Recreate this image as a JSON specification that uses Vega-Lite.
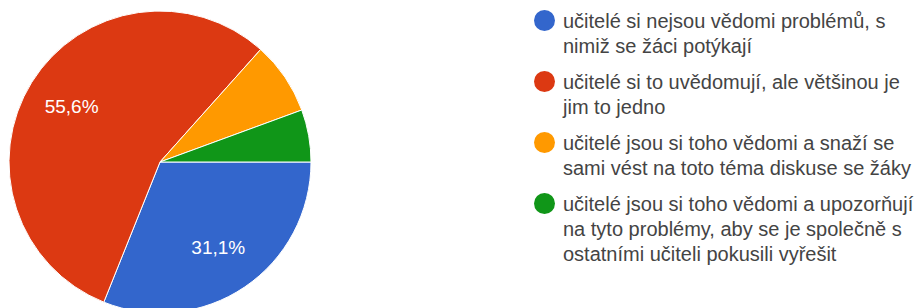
{
  "$schema": "https://vega.github.io/schema/vega-lite/v6.json",
  "width": 320,
  "height": 324,
  "padding": {"left": 0, "top": 0, "right": 598, "bottom": 0},
  "autosize": {"type": "none"},
  "background": "white",
  "config": {
    "view": {"stroke": null},
    "style": {"guide-label": {"dy": 7, "lineHeight": 25}},
    "locale": {"number": {"decimal": ",", "thousands": "\u00a0", "grouping": [3], "currency": ["", "\u00a0Kč"]}}
  },
  "data": {
    "values": [
      {"id": 1, "cat": "učitelé si nejsou vědomi problémů, s nimiž se žáci potýkají", "share": 0.311},
      {"id": 2, "cat": "učitelé si to uvědomují, ale většinou je jim to jedno", "share": 0.556},
      {"id": 3, "cat": "učitelé jsou si toho vědomi a snaží se sami vést na toto téma diskuse se žáky", "share": 0.078},
      {"id": 4, "cat": "učitelé jsou si toho vědomi a upozorňují na tyto problémy, aby se je společně s ostatními učiteli pokusili vyřešit", "share": 0.056}
    ]
  },
  "encoding": {
    "theta": {"field": "share", "type": "quantitative", "stack": true, "scale": {"range": [1.5707963, 7.8539816]}},
    "order": {"field": "id", "type": "quantitative"}
  },
  "layer": [
    {
      "mark": {"type": "arc", "radius": 151, "stroke": "white", "strokeWidth": 1},
      "encoding": {
        "color": {
          "field": "cat",
          "type": "nominal",
          "scale": {
            "domain": [
              "učitelé si nejsou vědomi problémů, s nimiž se žáci potýkají",
              "učitelé si to uvědomují, ale většinou je jim to jedno",
              "učitelé jsou si toho vědomi a snaží se sami vést na toto téma diskuse se žáky",
              "učitelé jsou si toho vědomi a upozorňují na tyto problémy, aby se je společně s ostatními učiteli pokusili vyřešit"
            ],
            "range": ["#3366cc", "#dc3912", "#ff9900", "#109618"]
          },
          "legend": {
            "title": null,
            "orient": "none",
            "legendX": 534,
            "legendY": 10,
            "padding": 0,
            "symbolType": "circle",
            "symbolSize": 441,
            "symbolStrokeWidth": 0,
            "symbolOpacity": 1,
            "labelFont": "Liberation Sans, Arial",
            "labelFontSize": 20,
            "labelColor": "#444444",
            "labelLimit": 500,
            "labelOffset": 8,
            "labelBaseline": "alphabetic",
            "rowPadding": 14,
            "labelExpr": "length(substring(datum.label, lastindexof(substring(datum.label,0,41),' ')+1)) <= 41 ? [substring(datum.label,0,lastindexof(substring(datum.label,0,41),' ')), substring(datum.label, lastindexof(substring(datum.label,0,41),' ')+1)] : [substring(datum.label,0,lastindexof(substring(datum.label,0,41),' ')), substring(substring(datum.label, lastindexof(substring(datum.label,0,41),' ')+1),0,lastindexof(substring(substring(datum.label, lastindexof(substring(datum.label,0,41),' ')+1),0,41),' ')), substring(substring(datum.label, lastindexof(substring(datum.label,0,41),' ')+1), lastindexof(substring(substring(datum.label, lastindexof(substring(datum.label,0,41),' ')+1),0,41),' ')+1)]"
          }
        }
      }
    },
    {
      "mark": {"type": "text", "radius": 104, "fill": "white", "font": "Liberation Sans, Arial", "fontSize": 19, "align": "center", "baseline": "middle"},
      "encoding": {
        "detail": {"field": "cat", "type": "nominal"},
        "text": {"condition": {"test": "datum.share < 0.1", "value": ""}, "field": "share", "type": "quantitative", "format": ".1%"}
      }
    }
  ]
}
